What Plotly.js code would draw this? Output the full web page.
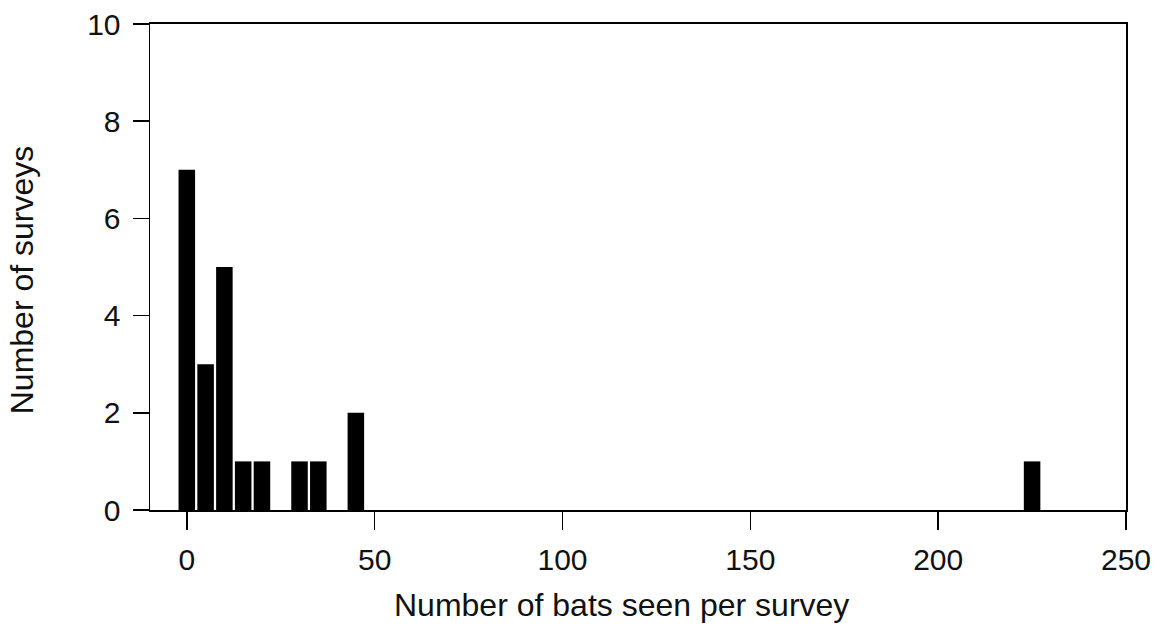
<!DOCTYPE html>
<html>
<head>
<meta charset="utf-8">
<script src="https://cdn.plot.ly/plotly-3.0.1.min.js"></script>
<style>html,body{margin:0;padding:0;background:#fff;}#chart{width:1155px;height:631px;}</style>
</head>
<body>
<div id="chart"></div>
<script>
// Data
const batsPerSurvey = [0, 5, 10, 15, 20, 30, 35, 45, 225];
const numberOfSurveys = [7, 3, 5, 1, 1, 1, 1, 2, 1];
const xTickValues = [0, 50, 100, 150, 200, 250];
const yTickValues = [0, 2, 4, 6, 8, 10];
const xTitle = 'Number of bats seen per survey';
const yTitle = 'Number of surveys';

const fontFamily = '"Liberation Sans", Arial, sans-serif';

const trace = {
  type: 'bar',
  x: batsPerSurvey,
  y: numberOfSurveys,
  width: 4.4,
  marker: {color: '#000000', line: {width: 0}},
  hoverinfo: 'x+y'
};

const layout = {
  width: 1155,
  height: 631,
  margin: {l: 150, r: 29, t: 24, b: 121},
  paper_bgcolor: '#ffffff',
  plot_bgcolor: '#ffffff',
  showlegend: false,
  font: {family: fontFamily, color: '#111'},
  xaxis: {
    range: [-9.8, 250],
    tickvals: xTickValues,
    ticktext: xTickValues.map(String),
    ticks: 'outside',
    ticklen: 18,
    tickwidth: 1.5,
    tickcolor: '#000',
    showline: true,
    linecolor: '#000',
    linewidth: 1.6,
    mirror: true,
    showgrid: false,
    zeroline: false,
    tickfont: {size: 30, family: fontFamily, color: '#111'},
    ticklabelstandoff: 4
  },
  yaxis: {
    range: [0, 10],
    tickvals: yTickValues,
    ticktext: yTickValues.map(String),
    ticks: 'outside',
    ticklen: 16,
    tickwidth: 1.5,
    tickcolor: '#000',
    showline: true,
    linecolor: '#000',
    linewidth: 1.5,
    mirror: true,
    showgrid: false,
    zeroline: false,
    tickfont: {size: 30, family: fontFamily, color: '#111'},
    ticklabelstandoff: 6
  },
  annotations: [
    {text: xTitle, xref: 'paper', yref: 'paper', x: 0.4836, y: -0.195,
     xanchor: 'center', yanchor: 'middle', showarrow: false,
     font: {size: 32, family: fontFamily, color: '#111'}},
    {text: yTitle, xref: 'paper', yref: 'paper', x: -0.131, y: 0.473,
     xanchor: 'center', yanchor: 'middle', showarrow: false, textangle: -90,
     font: {size: 32, family: fontFamily, color: '#111'}}
  ]
};

Plotly.newPlot('chart', [trace], layout, {staticPlot: true, displayModeBar: false});
</script>
</body>
</html>
